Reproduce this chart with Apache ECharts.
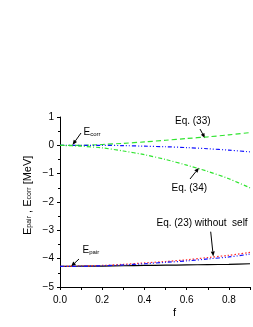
<!DOCTYPE html>
<html><head><meta charset="utf-8">
<script src="https://cdn.jsdelivr.net/npm/echarts@6/dist/echarts.min.js"></script>
<style>html,body{margin:0;padding:0;background:#fff}#c{width:253px;height:327px}</style>
</head><body><div id="c"></div>
<script>
const fValues   = [0, 0.1, 0.2, 0.3, 0.4, 0.5, 0.6, 0.7, 0.8, 0.9];
const eq33      = [0, 0.0, 0.03, 0.07, 0.12, 0.18, 0.24, 0.30, 0.37, 0.45];
const corrBlue  = [0, 0, 0, -0.01, -0.03, -0.05, -0.08, -0.12, -0.17, -0.23];
const eq34      = [0, -0.03, -0.09, -0.2, -0.33, -0.5, -0.7, -0.92, -1.18, -1.5];
const eq23Red   = [-4.27, -4.26, -4.24, -4.2, -4.15, -4.1, -4.04, -3.96, -3.88, -3.78];
const pairBlue  = [-4.27, -4.27, -4.25, -4.22, -4.18, -4.13, -4.08, -4.01, -3.94, -3.84];
const pairBlack = [-4.27, -4.265, -4.26, -4.25, -4.24, -4.23, -4.22, -4.21, -4.2, -4.18];
const xTickLabels = ['0.0', '0.2', '0.4', '0.6', '0.8'];
const yTickLabels = ['1', '0', '−1', '−2', '−3', '−4', '−5'];

const FONT = "'Liberation Sans', Arial, sans-serif";
const green = '#2fe42f', blue = '#1010ff', red = '#ff2a2a';
const pairs = arr => fValues.map((f, i) => [f, arr[i]]);

function arrow(x1, y1, x2, y2) {
  const a = Math.atan2(y2 - y1, x2 - x1), L = 5, W = 2;
  const bx = x2 - L * Math.cos(a), by = y2 - L * Math.sin(a);
  return [
    { type: 'line', shape: { x1, y1, x2: bx, y2: by }, style: { stroke: '#000', lineWidth: 1 } },
    { type: 'polygon', shape: { points: [[x2, y2], [bx + W * Math.sin(a), by - W * Math.cos(a)], [bx - W * Math.sin(a), by + W * Math.cos(a)]] }, style: { fill: '#000' } }
  ];
}
function txt(x, y, rich, text, extra) {
  return Object.assign({ type: 'text', x, y, style: { text, font: '10px ' + FONT, fill: '#000', rich } }, extra || {});
}
const subRich = { s: { fontSize: 6, fontFamily: FONT, verticalAlign: 'bottom', padding: [4, 0, 0, 0] }, n: { fontSize: 10, fontFamily: FONT } };

const chart = echarts.init(document.getElementById('c'));
chart.setOption({
  animation: false,
  backgroundColor: '#fff',
  grid: { left: 60, right: 1, top: 117, bottom: 40, containLabel: false },
  xAxis: {
    type: 'value', min: 0, max: 0.9, interval: 0.1,
    axisLine: { onZero: false, lineStyle: { color: '#000', width: 1 } },
    axisTick: { show: true, length: 3, lineStyle: { color: '#000' } },
    splitLine: { show: false },
    axisLabel: {
      color: '#000', fontSize: 10, fontFamily: FONT, margin: 8,
      formatter: v => { const k = Math.round(v * 10); return k % 2 === 0 ? xTickLabels[k / 2] : ''; }
    }
  },
  yAxis: {
    type: 'value', min: -5, max: 1, interval: 1,
    axisLine: { show: true, onZero: false, lineStyle: { color: '#000', width: 1 } },
    axisTick: { show: true, length: 3, lineStyle: { color: '#000' } },
    minorTick: { show: true, splitNumber: 2, length: 2, lineStyle: { color: '#000' } },
    splitLine: { show: false },
    axisLabel: {
      color: '#000', fontSize: 10, fontFamily: FONT, margin: 6,
      formatter: v => yTickLabels[Math.round(1 - v)]
    }
  },
  series: [
    { type: 'line', data: pairs(eq33), smooth: 0.3, symbol: 'none', lineStyle: { color: green, width: 1.2, type: [5, 3] } },
    { type: 'line', data: pairs(corrBlue), smooth: 0.3, symbol: 'none', lineStyle: { color: blue, width: 1.2, type: [4, 2, 1, 2, 1, 2] } },
    { type: 'line', data: pairs(eq34), smooth: 0.3, symbol: 'none', lineStyle: { color: green, width: 1.2, type: [4, 2, 1, 2] } },
    { type: 'line', data: pairs(pairBlack), smooth: 0.3, symbol: 'none', lineStyle: { color: '#000', width: 1.2 } },
    { type: 'line', data: pairs(eq23Red), smooth: 0.3, symbol: 'none', lineStyle: { color: red, width: 1.2, type: [1.5, 2] } },
    { type: 'line', data: pairs(pairBlue), smooth: 0.3, symbol: 'none', lineStyle: { color: blue, width: 1.2, type: [4, 2, 1, 2, 1, 2] } }
  ],
  graphic: [].concat(
    arrow(81, 133, 72.5, 145),
    arrow(79, 259, 71, 266.5),
    arrow(200, 129, 205, 138.3),
    arrow(190, 179, 199, 167.7),
    arrow(210.7, 231.7, 213.3, 256.5),
    [
      txt(83.5, 127, subRich, '{n|E}{s|corr}'),
      txt(82.5, 245, subRich, '{n|E}{s|pair}'),
      txt(175, 116, null, 'Eq. (33)'),
      txt(171.5, 183, null, 'Eq. (34)'),
      txt(156.5, 218, null, 'Eq. (23) without  self'),
      txt(173, 307, null, 'f', { style: { text: 'f', font: '11px ' + FONT, fill: '#000' } }),
      {
        type: 'text', x: 22, y: 235, rotation: Math.PI / 2,
        style: {
          text: '{n|E}{s|pair}{n| , E}{s|corr}{n| [MeV]}', fill: '#000',
          rich: { n: { fontSize: 11, fontFamily: FONT }, s: { fontSize: 7, fontFamily: FONT, verticalAlign: 'bottom', padding: [4, 0, 0, 0] } }
        }
      }
    ]
  )
});
</script></body></html>
